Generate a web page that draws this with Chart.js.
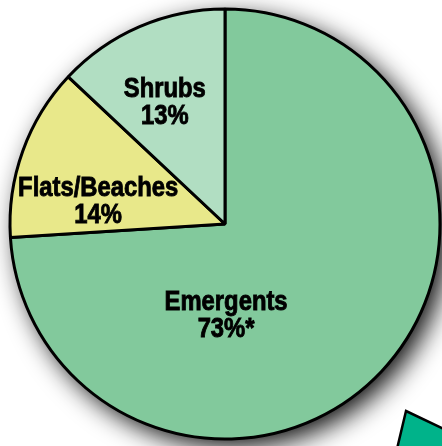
<!DOCTYPE html>
<html>
<head>
<meta charset="utf-8">
<script src="https://cdn.jsdelivr.net/npm/chart.js@4/dist/chart.umd.min.js"></script>
<style>
  html, body { margin: 0; padding: 0; background: #fff; }
  #wrap { width: 442px; height: 446px; position: relative; }
</style>
</head>
<body>
<div id="wrap"><canvas id="pie"></canvas></div>
<script>
// ===== Data =====
const categories = ["Emergents", "Flats/Beaches", "Shrubs"];
const shares = [74, 13, 13];            // slice sizes as drawn
const shareLabels = ["73%*", "14%", "13%"];
const sliceColors = ["#82c99c", "#e8e88a", "#b1dec2"];

// label placement, as fraction of radius from centre
const labelOffsets = [[0.005, 0.42], [-0.59, -0.11], [-0.28, -0.57]];

// Arial-metric bold squeezed to look like a condensed face
const labelFont = "bold 28px 'Liberation Sans', Arial, sans-serif";
const squeeze = 0.85;

// ===== Plugins =====
const shadowPlugin = {
  id: 'pieShadow',
  beforeDatasetsDraw(chart) {
    const arc = chart.getDatasetMeta(0).data[0];
    if (!arc) return;
    const ctx = chart.ctx;
    ctx.save();
    ctx.shadowColor = 'rgba(0,0,0,0.95)';
    ctx.shadowBlur = 26;
    ctx.shadowOffsetX = 8;
    ctx.shadowOffsetY = 8;
    ctx.fillStyle = '#82c99c';
    ctx.beginPath();
    ctx.arc(arc.x, arc.y, arc.outerRadius, 0, Math.PI * 2);
    ctx.fill();
    ctx.restore();
  }
};

// teal corner of the neighbouring graphic
const cornerPlugin = {
  id: 'corner',
  afterDatasetsDraw(chart) {
    const ctx = chart.ctx;
    ctx.save();
    ctx.beginPath();
    ctx.moveTo(406, 411);
    ctx.lineTo(480, 446);
    ctx.lineTo(480, 470);
    ctx.lineTo(392, 470);
    ctx.closePath();
    ctx.fillStyle = '#00b38a';
    ctx.fill();
    ctx.lineWidth = 2.5;
    ctx.strokeStyle = '#000';
    ctx.stroke();
    ctx.restore();
  }
};

const labelPlugin = {
  id: 'sliceLabels',
  afterDatasetsDraw(chart) {
    const meta = chart.getDatasetMeta(0);
    const ctx = chart.ctx;
    meta.data.forEach((arc, i) => {
      const r = arc.outerRadius;
      const x = arc.x + labelOffsets[i][0] * r;
      const y = arc.y + labelOffsets[i][1] * r;
      ctx.save();
      ctx.translate(x, y);
      ctx.scale(squeeze, 1);
      ctx.font = labelFont;
      ctx.fillStyle = '#000';
      ctx.strokeStyle = '#000';
      ctx.lineWidth = 0.9;
      ctx.textAlign = 'center';
      ctx.textBaseline = 'alphabetic';
      [[categories[i], -4], [shareLabels[i], 23]].forEach(([txt, dy]) => {
        ctx.fillText(txt, 0, dy);
        ctx.strokeText(txt, 0, dy);
      });
      ctx.restore();
    });
  }
};

// ===== Chart =====
new Chart(document.getElementById('pie'), {
  type: 'pie',
  data: {
    labels: categories,
    datasets: [{
      data: shares,
      backgroundColor: sliceColors,
      borderColor: '#000',
      borderWidth: 3
    }]
  },
  options: {
    responsive: true,
    maintainAspectRatio: false,
    animation: false,
    radius: 215,
    layout: { padding: { left: 8, top: 2 } },
    plugins: {
      legend: { display: false },
      tooltip: { enabled: false }
    }
  },
  plugins: [shadowPlugin, labelPlugin, cornerPlugin]
});
</script>
</body>
</html>
